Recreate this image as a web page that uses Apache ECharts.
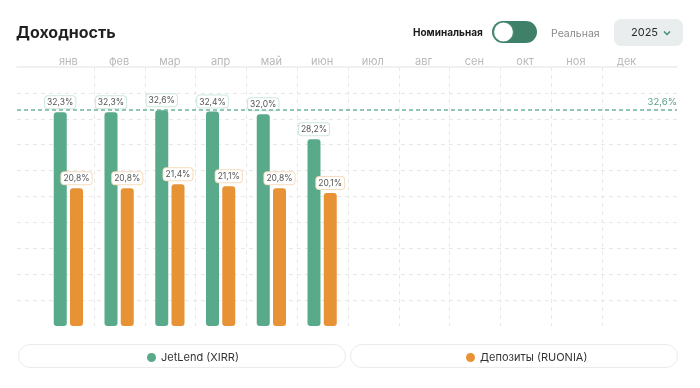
<!DOCTYPE html>
<html><head><meta charset="utf-8">
<script src="https://cdn.jsdelivr.net/npm/echarts@6/dist/echarts.min.js"></script>
<style>html,body{margin:0;padding:0;background:#fff}#c{width:700px;height:388px}</style>
</head><body><div id="c"></div>
<script>
const months = ['янв','фев','мар','апр','май','июн','июл','авг','сен','окт','ноя','дек'];
const jetlend = [32.3, 32.3, 32.6, 32.4, 32.0, 28.2, null, null, null, null, null, null];
const deposits = [20.8, 20.8, 21.4, 21.1, 20.8, 20.1, null, null, null, null, null, null];
const maxLineValue = 32.6;
const seriesNames = ['JetLend (XIRR)', 'Депозиты (RUONIA)'];
const yMax = 39.12;

const FONT = 'Inter, "Noto Sans", sans-serif';
const GREEN = '#59a98b', ORANGE = '#e89236';
const fmt = v => v.toFixed(1).replace('.', ',') + '%';
const chart = echarts.init(document.getElementById('c'), null, {renderer: 'canvas'});
const gridTop = 67, gridBottom = 62;
const dash = {type: [4, 4], color: '#e8e8e8', width: 1};

chart.setOption({
  animation: false,
  textStyle: {fontFamily: FONT},
  title: {text: 'Доходность', left: 11, top: 20, textStyle: {fontFamily: FONT, fontSize: 16, fontWeight: 700, color: '#1f1f1f'}},
  grid: [
    {left: 17, right: 23, top: gridTop, bottom: gridBottom},
    {left: 43, right: 48, top: gridTop, bottom: gridBottom},
    {left: 94, right: 98, top: gridTop, bottom: gridBottom}
  ],
  xAxis: [
    {gridIndex: 0, type: 'value', min: 0, max: 1, position: 'top',
     axisLine: {show: true, onZero: false, lineStyle: {color: '#ececec', width: 1.5}},
     axisTick: {show: false}, axisLabel: {show: false}, splitLine: {show: false}},
    {gridIndex: 1, type: 'category', data: months, position: 'top',
     axisLine: {show: false}, axisTick: {show: false}, splitLine: {show: false},
     axisLabel: {color: '#b9b9b9', fontSize: 11, margin: 0, fontFamily: FONT}},
    {gridIndex: 2, type: 'value', min: 0, max: 10, interval: 1,
     axisLine: {show: false}, axisTick: {show: false}, axisLabel: {show: false},
     splitLine: {show: true, showMinLine: true, showMaxLine: true, lineStyle: dash}}
  ],
  yAxis: [
    {gridIndex: 0, type: 'value', min: 0, max: yMax, interval: yMax / 10,
     axisLine: {show: false}, axisTick: {show: false}, axisLabel: {show: false},
     splitLine: {show: true, showMinLine: false, showMaxLine: false, lineStyle: dash}},
    {gridIndex: 1, type: 'value', min: 0, max: yMax, show: false, splitLine: {show: false}},
    {gridIndex: 2, type: 'value', min: 0, max: yMax, show: false, splitLine: {show: false}}
  ],
  legend: [
    {data: [seriesNames[0]], left: 142, top: 347, icon: 'circle', itemWidth: 9, itemHeight: 9, itemGap: 6,
     textStyle: {fontSize: 11, color: '#333', fontFamily: FONT}},
    {data: [seriesNames[1]], left: 461, top: 347, icon: 'circle', itemWidth: 9, itemHeight: 9, itemGap: 6,
     textStyle: {fontSize: 11, color: '#333', fontFamily: FONT}}
  ],
  series: [
    {type: 'line', xAxisIndex: 0, yAxisIndex: 0, data: [[0, null]], silent: true, symbol: 'none',
     markLine: {symbol: 'none', silent: true,
       lineStyle: {type: [4, 3], color: '#6db597', width: 1.5},
       label: {position: 'insideEndTop', formatter: fmt(maxLineValue), color: '#5a9f84', fontSize: 9.5, fontFamily: FONT, distance: [0, 3]},
       data: [{yAxis: maxLineValue}]}},
    {name: seriesNames[0], type: 'bar', xAxisIndex: 1, yAxisIndex: 1, data: jetlend,
     barWidth: 13, barGap: '25%',
     itemStyle: {color: GREEN, borderRadius: 3},
     label: {show: true, position: 'top', distance: 4, formatter: p => fmt(p.value),
       fontSize: 8.5, color: '#555', fontFamily: FONT, backgroundColor: '#fff',
       borderColor: '#cde7dc', borderWidth: 1, borderRadius: 3, padding: [2, 2, 1, 2]}},
    {name: seriesNames[1], type: 'bar', xAxisIndex: 1, yAxisIndex: 1, data: deposits,
     barWidth: 13,
     itemStyle: {color: ORANGE, borderRadius: 3},
     label: {show: true, position: 'top', distance: 4, formatter: p => fmt(p.value),
       fontSize: 8.5, color: '#555', fontFamily: FONT, backgroundColor: '#fff',
       borderColor: '#f6dcbc', borderWidth: 1, borderRadius: 3, padding: [2, 2, 1, 2]}}
  ],
  graphic: [
    {type: 'rect', z: -1, shape: {x: 18.5, y: 344.5, width: 327, height: 23, r: 11.5}, style: {fill: '#fff', stroke: '#ebebeb', lineWidth: 1}},
    {type: 'rect', z: -1, shape: {x: 350.5, y: 344.5, width: 327, height: 23, r: 11.5}, style: {fill: '#fff', stroke: '#ebebeb', lineWidth: 1}},
    {type: 'text', left: 413, top: 28, style: {text: 'Номинальная', font: '700 10px ' + FONT, fill: '#1a1a1a'}},
    {type: 'rect', shape: {x: 492, y: 21, width: 45, height: 22, r: 11}, style: {fill: '#3f8068'}},
    {type: 'circle', shape: {cx: 503.5, cy: 32, r: 10}, style: {fill: '#fff', stroke: '#4c8c73', lineWidth: 1.2}},
    {type: 'text', left: 551, top: 28, style: {text: 'Реальная', font: '400 10.5px ' + FONT, fill: '#8a8a8a'}},
    {type: 'rect', shape: {x: 614, y: 19, width: 69, height: 27, r: 7}, style: {fill: '#e9eded'}},
    {type: 'text', left: 631, top: 27, style: {text: '2025', font: '400 11px ' + FONT, fill: '#2b2b2b'}},
    {type: 'polyline', shape: {points: [[664, 31.5], [667, 34.5], [670, 31.5]]}, style: {stroke: '#3f8a6e', lineWidth: 1.4, fill: null}}
  ]
});
</script></body></html>
